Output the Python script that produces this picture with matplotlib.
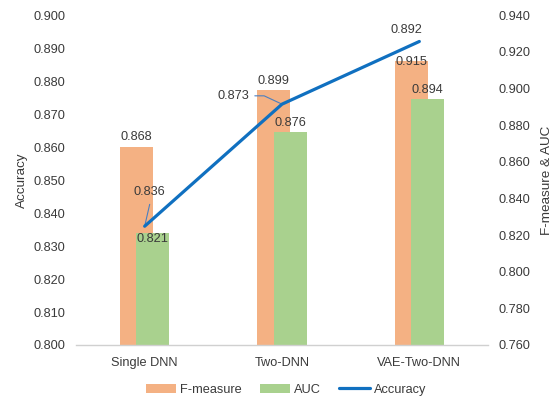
import matplotlib
matplotlib.use("Agg")
import matplotlib.pyplot as plt
import numpy as np

plt.rcParams['font.family'] = ['Liberation Sans', 'DejaVu Sans']

categories = ["Single DNN", "Two-DNN", "VAE-Two-DNN"]
f_measure = [0.868, 0.899, 0.915]
auc = [0.821, 0.876, 0.894]
accuracy = [0.836, 0.873, 0.892]

acc_ticks = [0.800, 0.810, 0.820, 0.830, 0.840, 0.850, 0.860, 0.870, 0.880, 0.890, 0.900]
fa_ticks = [0.760, 0.780, 0.800, 0.820, 0.840, 0.860, 0.880, 0.900, 0.920, 0.940]

C_F = "#F4B183"
C_AUC = "#A9D18E"
C_ACC = "#1070C0"
TXT = "#3a3a3a"
FS = 9.2

fig = plt.figure(figsize=(5.56, 3.97), dpi=100)
ax = fig.add_axes([0.1367, 0.131, 0.741, 0.831])
ax2 = ax.twinx()

x = np.arange(len(categories))
w = 0.24
off = 0.06

# bars on the secondary (right) axis
ax2.bar(x - off, f_measure, w, color=C_F, zorder=2, label="F-measure")
ax2.bar(x + off, auc, w, color=C_AUC, zorder=3, label="AUC")
ax2.set_ylim(0.760, 0.940)
ax2.set_yticks(fa_ticks)
ax2.set_yticklabels([f"{t:.3f}" for t in fa_ticks])

# bar value labels (points above the bar top; a couple are nudged down)
f_dy = [7, 7, -1]
a_dy = [-4, 7, 7]
for i in range(len(categories)):
    ax2.annotate(f"{f_measure[i]:.3f}", (x[i] - off, f_measure[i]), xytext=(0, f_dy[i]),
                 textcoords="offset points", ha="center", va="center", fontsize=FS, color=TXT, zorder=6)
    ax2.annotate(f"{auc[i]:.3f}", (x[i] + off, auc[i]), xytext=(0, a_dy[i]),
                 textcoords="offset points", ha="center", va="center", fontsize=FS, color=TXT, zorder=6)

# accuracy line on the primary (left) axis, drawn above the bars
ax.set_zorder(ax2.get_zorder() + 1)
ax.patch.set_visible(False)
ax.plot(x, accuracy, color=C_ACC, lw=2.3, solid_capstyle="round", zorder=5, label="Accuracy")
ax.set_ylim(0.800, 0.900)
ax.set_yticks(acc_ticks)
ax.set_yticklabels([f"{t:.3f}" for t in acc_ticks])
ax.set_xlim(-0.5, len(categories) - 0.5)
ax.set_xticks(x)
ax.set_xticklabels(categories)

ax.annotate(f"{accuracy[0]:.3f}", (x[0], accuracy[0]), xytext=(3.6, 25),
            textcoords="offset points", ha="center", va="center", fontsize=FS, color=TXT,
            arrowprops=dict(arrowstyle="-", color="#4a7fc0", lw=0.8, shrinkA=3, shrinkB=0,
                            relpos=(0.55, 0.0)))
ax.annotate(f"{accuracy[1]:.3f}", (x[1], accuracy[1]), xytext=(-35, 6),
            textcoords="offset points", ha="center", va="center", fontsize=FS, color=TXT,
            arrowprops=dict(arrowstyle="-", color="#4a7fc0", lw=0.8, shrinkA=2, shrinkB=0,
                            relpos=(1.0, 0.5),
                            connectionstyle="angle,angleA=0,angleB=155,rad=0"))
ax.annotate(f"{accuracy[2]:.3f}", (x[2], accuracy[2]), xytext=(-9, 8),
            textcoords="offset points", ha="center", va="center", fontsize=FS, color=TXT)

for a in (ax, ax2):
    for s in a.spines.values():
        s.set_visible(False)
    a.tick_params(length=0, labelsize=FS, colors=TXT)
ax.spines["bottom"].set_visible(True)
ax.spines["bottom"].set_color("#d0d0d0")
ax.spines["bottom"].set_linewidth(1.0)
ax.tick_params(axis="y", pad=7.5)
ax2.tick_params(axis="y", pad=7.5)
ax.tick_params(axis="x", pad=9)

ax.set_ylabel("Accuracy", fontsize=FS + 0.5, color=TXT, labelpad=4)
ax2.set_ylabel("F-measure & AUC", fontsize=FS + 0.5, color=TXT, labelpad=7.5)

h2, l2 = ax2.get_legend_handles_labels()
h1, l1 = ax.get_legend_handles_labels()
fig.legend(h2 + h1, l2 + l1, loc="center", bbox_to_anchor=(0.514, 0.018), ncol=3,
           frameon=False, fontsize=FS, handlelength=2.4, handleheight=0.7,
           handletextpad=0.3, columnspacing=1.4, labelcolor=TXT)

fig.savefig("out.png", dpi=100)
